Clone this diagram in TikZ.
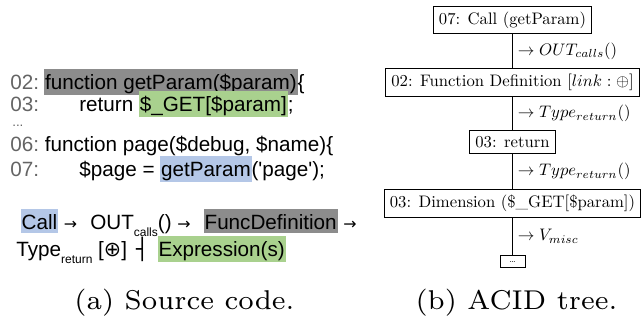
\documentclass[tikz,border=0pt]{standalone}
\usepackage{fontspec}
\newfontfamily\arialf{Liberation Sans}
\newfontfamily\djv{DejaVu Sans}
\definecolor{hlgray}{RGB}{140,140,140}
\definecolor{hlgreen}{RGB}{169,209,142}
\definecolor{hlblue}{RGB}{180,199,231}
\definecolor{lngray}{RGB}{100,100,100}
\newcommand\hlt[2]{{\setlength{\fboxsep}{0.5pt}\colorbox{#1}{\rule[-1.6pt]{0pt}{13.4pt}#2}}}
\newcommand\arrsym{\makebox[12.4pt][l]{\djv\fontsize{9.5}{9.5}\selectfont →}}
\newcommand\subx[1]{\raisebox{-4.1pt}{\fontsize{7.2}{7.2}\selectfont #1}}
\begin{document}
\begin{tikzpicture}[x=0.6pt,y=-0.6pt,
  code/.style={anchor=base west,inner sep=0pt,font=\arialf\fontsize{12.4}{14}\selectfont,text=black},
  lnum/.style={code,text=lngray},
  tbox/.style={draw,line width=0.5pt,font=\fontsize{10}{12}\selectfont},
  tline/.style={line width=0.5pt},
  elab/.style={right,font=\fontsize{10}{12}\selectfont,inner sep=3pt},
  capt/.style={anchor=base,inner sep=0pt}]
\useasboundingbox (0,0) rectangle (641,321);
% source code
\node[lnum] (n02) at (10,89.5) {02:};
\node[code] (c02) at (44,89.5) {\hlt{hlgray}{function getParam(\$param)}\{};
\node[lnum] (n03) at (10,112) {03:};
\node[code] (c03) at (79,112) {return \hlt{hlgreen}{\$\_GET[\$param]};};
\node[lnum,font=\arialf\fontsize{8}{9}\selectfont] (dots) at (12,127) {...};
\node[lnum] (n06) at (10,152) {06:};
\node[code] (c06) at (44.5,152) {function page(\$debug, \$name)\{};
\node[lnum] (n07) at (10,176.5) {07:};
\node[code] (c07) at (79,176.5) {\$page = \hlt{hlblue}{getParam}(\textquotesingle page\textquotesingle);};
\node[code] (rA) at (20.5,229.3) {\hlt{hlblue}{Call} \arrsym{} OUT\subx{calls}() \arrsym{} \hlt{hlgray}{FuncDefinition} \arrsym};
\node[code] (rB) at (16,256.7) {Type\subx{return} [{\djv ⊕}] \makebox[11.5pt][c]{\djv ┤} \hlt{hlgreen}{Expression(s)}};
% tree
\node[tbox] (t1) at (512.5,20) {07: Call (getParam)};
\node[tbox] (t2) at (512.5,82.5) {02: Function Definition [$link:\oplus$]};
\node[tbox] (t3) at (512.5,142) {03: return};
\node[tbox] (t4) at (512.5,203.5) {03: Dimension (\$\_GET[\$param])};
\node[draw,line width=0.5pt,minimum width=15pt,minimum height=7.6pt,inner sep=0pt,font=\tiny] (t5) at (512.5,261.5) {\ldots};
\draw[tline] (t1) -- (t2) node[elab,midway] {$\rightarrow OUT_{calls}()$};
\draw[tline] (t2) -- (t3) node[elab,midway] {$\rightarrow Type_{return}()$};
\draw[tline] (t3) -- (t4) node[elab,midway] {$\rightarrow Type_{return}()$};
\draw[tline] (t4) -- (t5) node[elab,midway] {$\rightarrow V_{misc}$};
% captions
\node[capt] (capa) at (184.5,310) {\scalebox{2.33}{\fontsize{7}{8.4}\selectfont (a) Source code.}};
\node[capt] (capb) at (516.5,310) {\scalebox{2.33}{\fontsize{7}{8.4}\selectfont (b) ACID tree.}};
\end{tikzpicture}
\end{document}
